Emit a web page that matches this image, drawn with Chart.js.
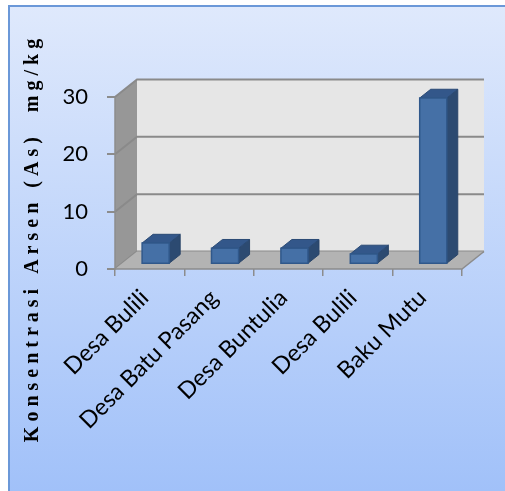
<!DOCTYPE html>
<html>
<head>
<meta charset="utf-8">
<script src="https://cdn.jsdelivr.net/npm/chart.js@4.4.1/dist/chart.umd.min.js"></script>
<style>
  html, body { margin: 0; padding: 0; background: #fff; }
</style>
</head>
<body>
<canvas id="arsenChart" width="505" height="491"></canvas>
<script>
// data
const categories = ['Desa Bulili', 'Desa Batu Pasang', 'Desa Buntulia', 'Desa Bulili', 'Baku Mutu'];
const arsenValues = [3.7, 2.8, 2.8, 1.8, 29];
const yTicks = [0, 10, 20, 30];
const yTitle = 'Konsentrasi Arsen (As)  mg/kg';

// fake 3D: vector from the front plane to the back wall
const depth = { dx: 22, dy: -17.5 };
const barFront = 0.27;   // where the bar front sits in the depth
const barDepth = 0.5;    // how deep the bar is

function poly(ctx, pts, fill, stroke, lw) {
    ctx.beginPath();
    ctx.moveTo(pts[0][0], pts[0][1]);
    for (let i = 1; i < pts.length; i++) ctx.lineTo(pts[i][0], pts[i][1]);
    ctx.closePath();
    if (fill) { ctx.fillStyle = fill; ctx.fill(); }
    if (stroke) { ctx.strokeStyle = stroke; ctx.lineWidth = lw || 1; ctx.stroke(); }
}

function line(ctx, pts, color, lw) {
    ctx.beginPath();
    ctx.moveTo(pts[0][0], pts[0][1]);
    for (let i = 1; i < pts.length; i++) ctx.lineTo(pts[i][0], pts[i][1]);
    ctx.strokeStyle = color;
    ctx.lineWidth = lw;
    ctx.stroke();
}

const walls3d = {
    id: 'walls3d',
    beforeDraw(chart) {
        const ctx = chart.ctx;
        const w = chart.width, h = chart.height;
        const { left, right, top, bottom } = chart.chartArea;
        const { dx, dy } = depth;
        const ys = chart.scales.y;
        ctx.save();

        // page + framed gradient background
        ctx.fillStyle = '#ffffff';
        ctx.fillRect(0, 0, w, h);
        const g = ctx.createLinearGradient(0, 6, 0, h);
        g.addColorStop(0, '#dfe9fc');
        g.addColorStop(1, '#a1c1f9');
        ctx.fillStyle = g;
        ctx.fillRect(10, 7, w, h);
        ctx.strokeStyle = '#6b98d8';
        ctx.lineWidth = 2;
        ctx.strokeRect(9, 6, w + 20, h + 20);

        // back wall
        ctx.fillStyle = '#e6e6e6';
        ctx.fillRect(left + dx, top + dy, right - left, bottom - top);
        // side wall
        poly(ctx, [[left, top], [left + dx, top + dy], [left + dx, bottom + dy], [left, bottom]], '#979797');

        // gridlines on side and back wall
        yTicks.forEach(v => {
            const py = ys.getPixelForValue(v);
            line(ctx, [[left, py], [left + dx, py + dy], [right + dx, py + dy]], '#8a8a8a', 2);
        });

        // floor
        poly(ctx, [[left, bottom], [left + dx, bottom + dy], [right + dx, bottom + dy], [right, bottom]], '#b3b3b3');
        line(ctx, [[left, bottom], [right, bottom], [right + dx, bottom + dy]], '#8c8c8c', 1.5);
        line(ctx, [[left, top], [left, bottom]], '#8c8c8c', 1.5);

        // y title, spaced out bold serif
        ctx.translate(38, 240);
        ctx.rotate(-Math.PI / 2);
        ctx.font = 'bold 20px "Liberation Serif"';
        ctx.letterSpacing = '5px';
        ctx.fillStyle = '#000';
        ctx.textAlign = 'center';
        ctx.textBaseline = 'alphabetic';
        ctx.fillText(yTitle, 2, 0);
        ctx.restore();
    },
    afterDatasetsDraw(chart) {
        const ctx = chart.ctx;
        const { dx, dy } = depth;
        const fx = dx * barFront, fy = dy * barFront;
        const bx = dx * barDepth, by = dy * barDepth;
        ctx.save();
        chart.getDatasetMeta(0).data.forEach(bar => {
            const p = bar.getProps(['x', 'y', 'base', 'width'], true);
            const l = p.x - p.width / 2 + fx, r = p.x + p.width / 2 + fx;
            const t = p.y + fy, b = p.base + fy;
            poly(ctx, [[r, t], [r + bx, t + by], [r + bx, b + by], [r, b]], '#2c4a71', '#2a4569', 1);
            poly(ctx, [[l, t], [l + bx, t + by], [r + bx, t + by], [r, t]], '#33578a', '#2a4a75', 1);
            poly(ctx, [[l, t], [r, t], [r, b], [l, b]], '#4570a6', '#30588b', 1.5);
        });
        ctx.restore();
    }
};

new Chart(document.getElementById('arsenChart'), {
    type: 'bar',
    data: {
        labels: categories,
        datasets: [{
            data: arsenValues,
            backgroundColor: 'rgba(0,0,0,0)',
            borderWidth: 0,
            categoryPercentage: 1,
            barPercentage: 0.39
        }]
    },
    options: {
        responsive: false,
        animation: false,
        events: [],
        layout: { padding: { left: 0, top: 97, right: 43, bottom: 0 } },
        plugins: { legend: { display: false }, tooltip: { enabled: false } },
        scales: {
            x: {
                afterFit: s => { s.height = 222; },
                border: { display: false },
                grid: {
                    offset: true,
                    drawOnChartArea: false,
                    tickLength: 7,
                    color: '#8c8c8c',
                    lineWidth: 1.5
                },
                ticks: {
                    minRotation: 45,
                    maxRotation: 45,
                    padding: 8,
                    labelOffset: -5,
                    color: '#000',
                    font: { family: 'Lato', size: 23.5 }
                }
            },
            y: {
                min: 0,
                max: 30,
                afterFit: s => { s.width = 115; },
                afterBuildTicks: s => { s.ticks = yTicks.map(v => ({ value: v })); },
                border: { display: false },
                grid: {
                    drawOnChartArea: false,
                    tickLength: 8,
                    color: '#8c8c8c',
                    lineWidth: 2
                },
                ticks: {
                    padding: 19,
                    color: '#000',
                    font: { family: 'Lato', size: 22 }
                }
            }
        }
    },
    plugins: [walls3d]
});
</script>
</body>
</html>
